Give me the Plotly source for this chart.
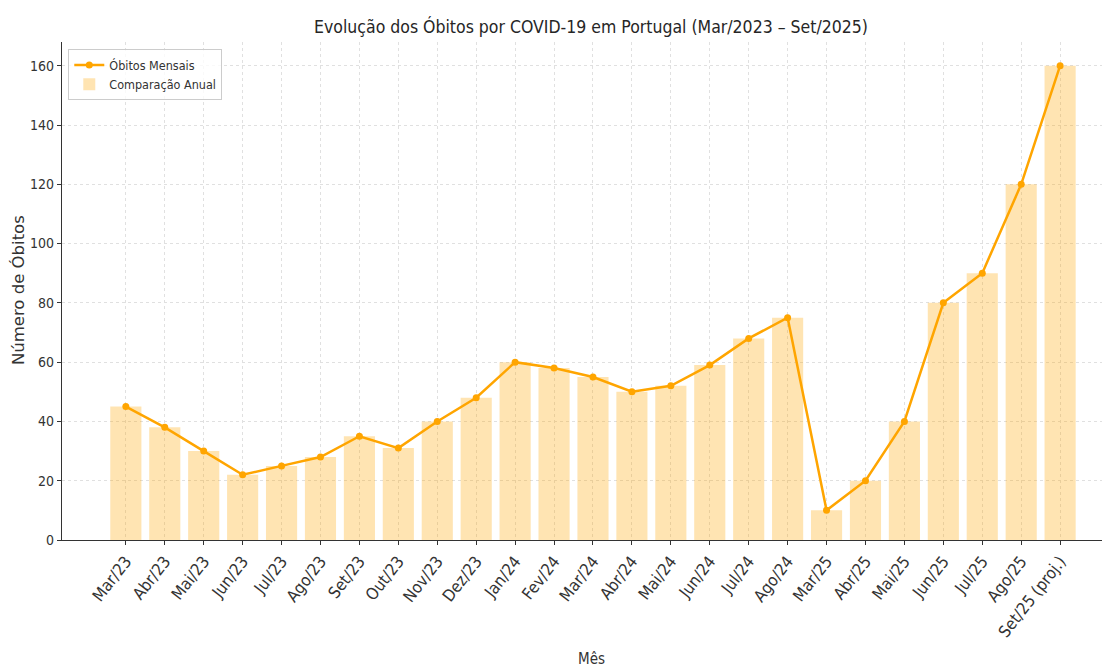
import plotly.graph_objects as go

meses = ["Mar/23", "Abr/23", "Mai/23", "Jun/23", "Jul/23", "Ago/23", "Set/23", "Out/23",
         "Nov/23", "Dez/23", "Jan/24", "Fev/24", "Mar/24", "Abr/24", "Mai/24", "Jun/24",
         "Jul/24", "Ago/24", "Mar/25", "Abr/25", "Mai/25", "Jun/25", "Jul/25", "Ago/25",
         "Set/25 (proj.)"]
obitos_mensais = [45, 38, 30, 22, 25, 28, 35, 31, 40, 48, 60, 58, 55, 50, 52, 59, 68, 75,
                  10, 20, 40, 80, 90, 120, 160]
comparacao_anual = [45, 38, 30, 22, 25, 28, 35, 31, 40, 48, 60, 58, 55, 50, 52, 59, 68, 75,
                    10, 20, 40, 80, 90, 120, 160]
y_ticks = [0, 20, 40, 60, 80, 100, 120, 140, 160]

FONT = "DejaVu Sans Condensed, DejaVu Sans, sans-serif"

W, H = 1102, 663  # page body has an 8px margin

fig = go.Figure()
fig.add_trace(go.Scatter(
    x=meses, y=obitos_mensais, mode="lines+markers", name="Óbitos Mensais",
    line=dict(color="#FFA500", width=2.5),
    marker=dict(color="#FFA500", size=7),
))
fig.add_trace(go.Bar(
    x=meses, y=comparacao_anual, name="Comparação Anual",
    marker=dict(color="rgba(255,165,0,0.3)", line=dict(width=0)),
    width=0.8,
))

fig.update_layout(
    width=W, height=H,
    margin=dict(l=54, r=2, t=34, b=131),
    paper_bgcolor="white", plot_bgcolor="white",
    font=dict(family=FONT, size=12, color="#333333"),
    title=dict(text="Evolução dos Óbitos por COVID-19 em Portugal (Mar/2023 – Set/2025)",
               x=583 / W, xanchor="center", y=1 - 19 / H, yanchor="middle",
               xref="container", yref="container",
               font=dict(size=17.5, color="#262626")),
    showlegend=True,
    legend=dict(x=0.006, y=0.985, xanchor="left", yanchor="top",
                bgcolor="rgba(255,255,255,0.8)", bordercolor="#cccccc", borderwidth=1,
                font=dict(size=12.5, color="#333333"), traceorder="normal"),
    bargap=0.2,
    annotations=[
        dict(text="Mês", xref="paper", yref="paper", x=0.506, y=-0.239,
             xanchor="center", yanchor="middle", showarrow=False,
             font=dict(size=15, color="#333333")),
        dict(text="Número de Óbitos", xref="paper", yref="paper", x=-0.042, y=0.502,
             xanchor="center", yanchor="middle", showarrow=False, textangle=-90,
             font=dict(family="DejaVu Sans, sans-serif", size=16.5, color="#333333")),
    ],
)
fig.update_xaxes(
    type="category", range=[-1.64, 25.23], automargin=False,
    tickangle=-52, ticks="outside", ticklen=4, tickcolor="#333333",
    showline=True, linecolor="#333333", linewidth=1.2,
    showgrid=True, gridcolor="#e0e0e0", griddash="dot", gridwidth=1,
    tickfont=dict(size=16.5, color="#333333"),
)
fig.update_yaxes(
    range=[0, 168], tickvals=y_ticks, ticks="outside", ticklen=4, tickcolor="#333333",
    automargin=False,
    showline=True, linecolor="#333333", linewidth=1.2,
    showgrid=True, gridcolor="#e0e0e0", griddash="dot", gridwidth=1, zeroline=False,
    tickfont=dict(size=14, color="#333333"),
)

fig.write_html("out.html")
